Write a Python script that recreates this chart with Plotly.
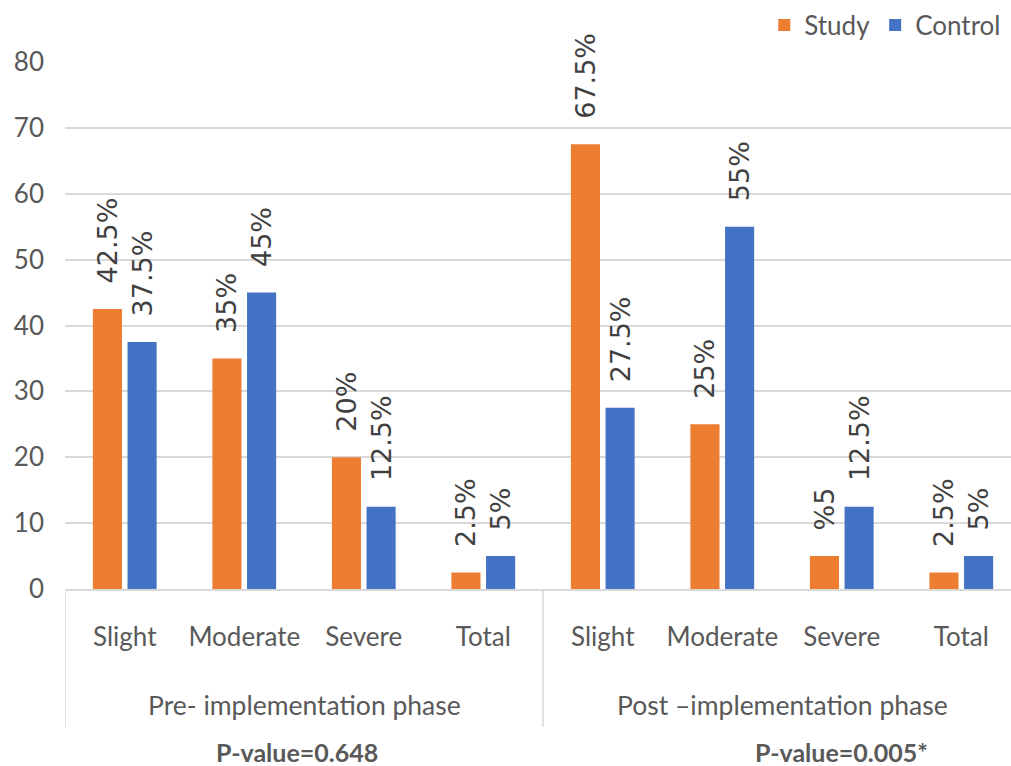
import plotly.graph_objects as go

# Severity categories within each phase
categories = ["Slight", "Moderate", "Severe", "Total"]
phases = ["Pre- implementation phase", "Post \u2013implementation phase"]
p_values = ["P-value=0.648", "P-value=0.005*"]

# Percentages per group, pre phase followed by post phase
study_values = [42.5, 35, 20, 2.5, 67.5, 25, 5, 2.5]
control_values = [37.5, 45, 12.5, 5, 27.5, 55, 12.5, 5]
study_labels = ["42.5%", "35%", "20%", "2.5%", "67.5%", "25%", "%5", "2.5%"]
control_labels = ["37.5%", "45%", "12.5%", "5%", "27.5%", "55%", "12.5%", "5%"]

y_ticks = [0, 10, 20, 30, 40, 50, 60, 70, 80]

FONT = "Lato"
LABEL_FONT = "DejaVu Sans"
TXT = "#595959"
positions = list(range(len(categories) * len(phases)))
tick_text = categories * len(phases)
PAD = "\u00a0\u00a0\u2009"  # keeps the rotated labels a little clear of the bar tops

fig = go.Figure()
for name, vals, labels, color in [
    ("Study", study_values, study_labels, "#ED7D31"),
    ("Control", control_values, control_labels, "#4472C4"),
]:
    fig.add_trace(go.Bar(
        x=positions, y=vals, name=name,
        marker=dict(color=color, line=dict(width=0)),
        text=[PAD + t for t in labels], textposition="outside", textangle=-90,
        constraintext="none",
        textfont=dict(family=LABEL_FONT, size=27, color="#404040"), cliponaxis=False,
    ))

shapes = []
# Group boundaries extending below the axis
for xb in [-0.5, 3.5]:
    shapes.append(dict(type="line", xref="x", yref="paper", x0=xb, x1=xb,
                       y0=0, y1=-0.262, line=dict(color="#d9d9d9", width=1.5)))

annotations = []
for i, ph in enumerate(phases):
    center = i * 4 + 1.5
    annotations.append(dict(x=center, y=-0.221, xref="x", yref="paper", yanchor="middle",
                            text=ph, showarrow=False,
                            font=dict(family=FONT, size=26.5, color=TXT)))
annotations.append(dict(x=1.44, y=-0.31, xref="x", yref="paper", yanchor="middle",
                        text="<b>" + p_values[0] + "</b>", showarrow=False,
                        font=dict(family=FONT, size=25, color=TXT)))
annotations.append(dict(x=6.0, y=-0.31, xref="x", yref="paper", yanchor="middle",
                        text="<b>" + p_values[1] + "</b>", showarrow=False,
                        font=dict(family=FONT, size=25, color=TXT)))

fig.update_layout(
    width=1011, height=766,
    margin=dict(l=65, r=0, t=62, b=177, autoexpand=False),
    paper_bgcolor="white", plot_bgcolor="white",
    barmode="group", bargap=0.42, bargroupgap=0.16,
    font=dict(family=FONT, color=TXT),
    legend=dict(orientation="h", x=0.995, xanchor="right", y=1.07, yanchor="middle",
                font=dict(family=FONT, size=26, color=TXT), itemwidth=30,
                traceorder="normal"),
    xaxis=dict(range=[-0.5, 7.416], tickmode="array", tickvals=positions, ticktext=tick_text,
               showgrid=False, zeroline=False, showline=True, linecolor="#d9d9d9", linewidth=1.5,
               ticks="", tickfont=dict(family=FONT, size=26, color=TXT), ticklabelstandoff=24),
    yaxis=dict(range=[0, 80], tickmode="array", tickvals=y_ticks, showgrid=True,
               gridcolor="#d9d9d9", gridwidth=1.5, zeroline=False, showline=False,
               tickfont=dict(family=FONT, size=26, color=TXT), ticklabelstandoff=20),
    shapes=shapes, annotations=annotations,
)

fig.write_html("out.html")
